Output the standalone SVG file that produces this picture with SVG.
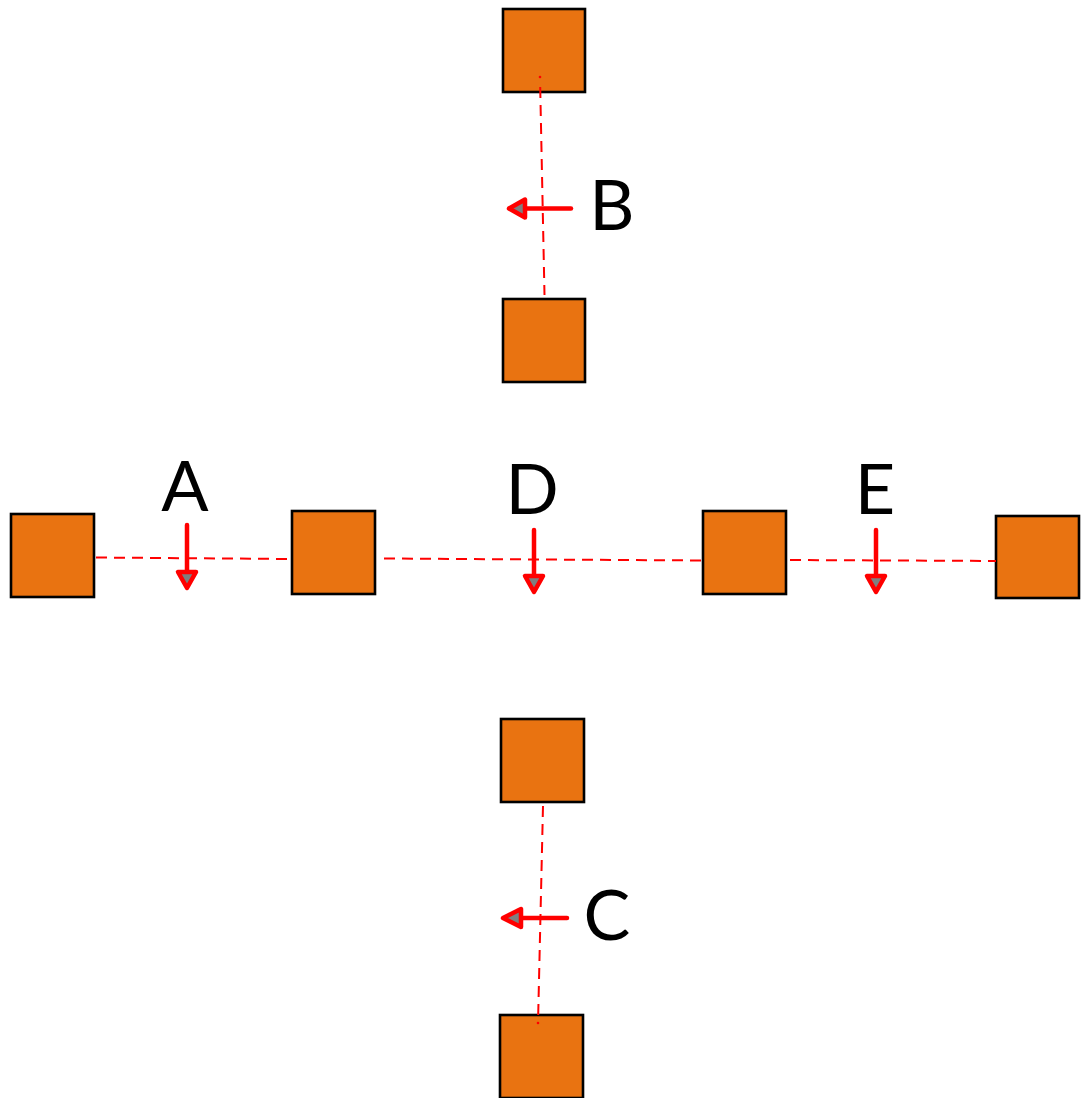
<svg xmlns="http://www.w3.org/2000/svg" width="1083" height="1098" viewBox="0 0 1083 1098">
<style>
.node{fill:#E97311;stroke:#000;stroke-width:2.6}
.link{stroke:#FF0000;stroke-width:2;stroke-dasharray:11 7;fill:none}
.dot{fill:#FF0000}
.shaft{stroke:#FF0000;stroke-width:4.5;stroke-linecap:round;fill:none}
.head{fill:#7F7F7F;stroke:#FF0000;stroke-width:4.5;stroke-linejoin:round}
.lbl{font-family:Lato,"Open Sans","Liberation Sans",sans-serif;font-size:70px;fill:#000;text-anchor:middle}
</style>
<rect width="1083" height="1098" fill="#fff"/>
<g id="node-top1"><rect class="node" x="503" y="9" width="82" height="83"/></g>
<g id="node-top2"><rect class="node" x="503" y="299" width="82" height="83"/></g>
<g id="node-left"><rect class="node" x="11" y="514" width="83" height="83"/></g>
<g id="node-midleft"><rect class="node" x="292" y="511" width="83" height="83"/></g>
<g id="node-midright"><rect class="node" x="703" y="511" width="83" height="83"/></g>
<g id="node-right"><rect class="node" x="996" y="516" width="83" height="82"/></g>
<g id="node-bottom1"><rect class="node" x="501" y="719" width="83" height="83"/></g>
<g id="node-bottom2"><rect class="node" x="500" y="1015" width="83" height="83"/></g>
<g id="connectors">
<circle class="dot" cx="540" cy="77" r="1.3"/>
<line class="link" x1="540.2" y1="87" x2="544.5" y2="295"/>
<line class="link" x1="543" y1="806" x2="538.2" y2="1015"/>
<circle class="dot" cx="538" cy="1023" r="1.3"/>
<line class="link" x1="96" y1="557.5" x2="291" y2="559"/>
<line class="link" x1="384" y1="558.5" x2="703" y2="560.5"/>
<line class="link" x1="790" y1="560" x2="996" y2="561"/>
</g>
<g id="arrow-A">
<line class="shaft" x1="187" y1="525" x2="187" y2="572"/>
<polygon class="head" points="178,572 196,572 187,588"/>
<text class="lbl" x="185" y="511">A</text>
</g>
<g id="arrow-B">
<line class="shaft" x1="571" y1="208.5" x2="525" y2="208.5"/>
<polygon class="head" points="525,199.5 525,217.5 509,208.5"/>
<text class="lbl" x="612" y="230">B</text>
</g>
<g id="arrow-C">
<line class="shaft" x1="567" y1="918" x2="521" y2="918"/>
<polygon class="head" points="521,909 521,927 503,918"/>
<text class="lbl" x="607" y="940">C</text>
</g>
<g id="arrow-D">
<line class="shaft" x1="534" y1="530" x2="534" y2="576"/>
<polygon class="head" points="525,576 543,576 534,592"/>
<text class="lbl" x="532" y="514">D</text>
</g>
<g id="arrow-E">
<line class="shaft" x1="876" y1="530" x2="876" y2="576"/>
<polygon class="head" points="867,576 885,576 876,592"/>
<text class="lbl" x="875" y="514">E</text>
</g>
</svg>
